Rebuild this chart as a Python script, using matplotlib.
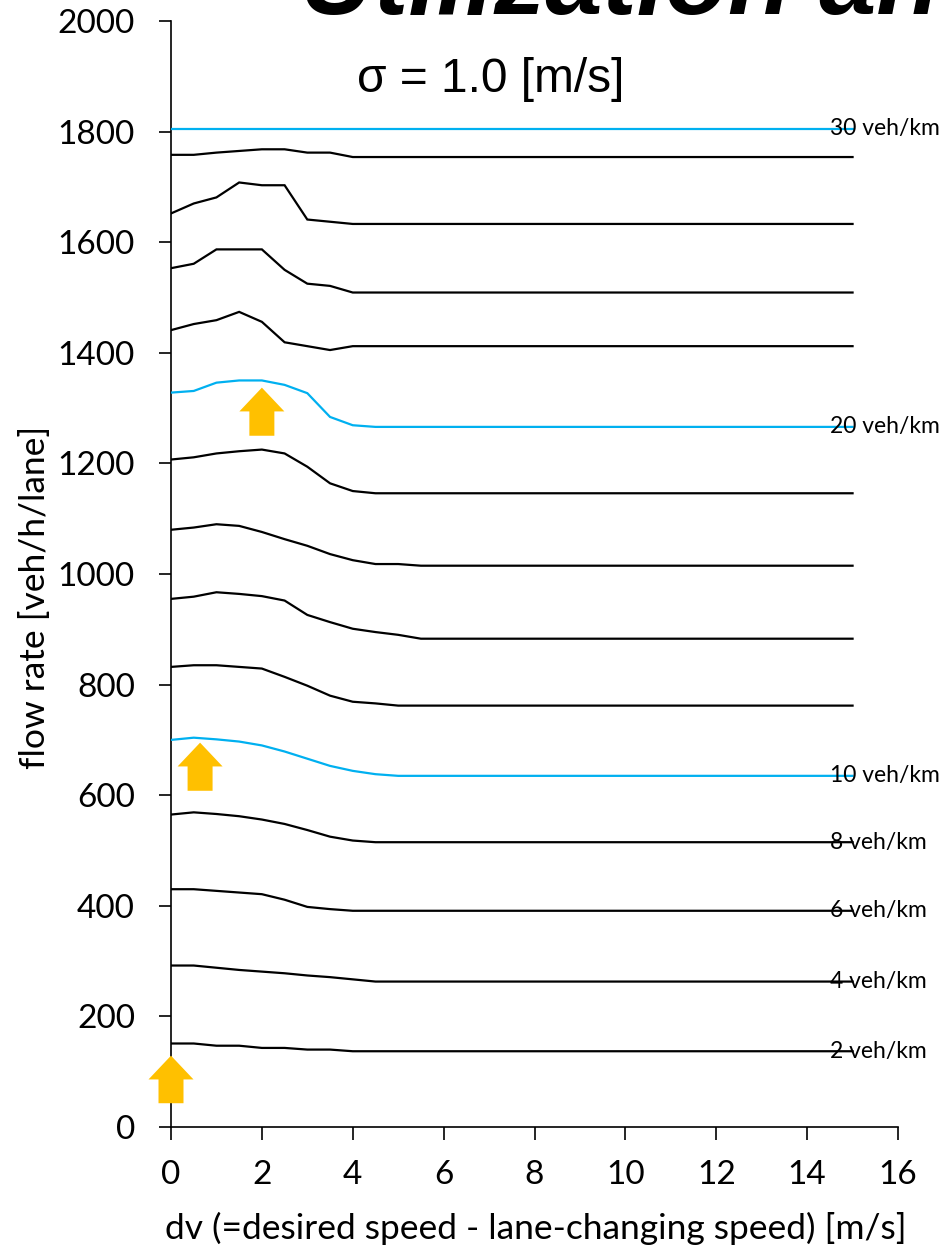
import matplotlib
matplotlib.use("Agg")
import matplotlib.pyplot as plt

# ---- data ----
dv = [0, 0.5, 1, 1.5, 2, 2.5, 3, 3.5, 4, 4.5, 5, 5.5, 15]
densities = [2, 4, 6, 8, 10, 12, 14, 16, 18, 20, 22, 24, 26, 28, 30]
flow_2 = [151, 151, 147, 147, 143, 143, 140, 140, 137, 137, 137, 137, 137]
flow_4 = [292, 292, 288, 284, 281, 278, 274, 271, 267, 263, 263, 263, 263]
flow_6 = [430, 430, 427, 424, 421, 411, 398, 394, 391, 391, 391, 391, 391]
flow_8 = [565, 569, 566, 562, 556, 548, 537, 525, 518, 515, 515, 515, 515]
flow_10 = [700, 704, 701, 697, 690, 679, 666, 653, 644, 638, 635, 635, 635]
flow_12 = [832, 835, 835, 832, 829, 814, 798, 780, 769, 766, 762, 762, 762]
flow_14 = [955, 959, 967, 964, 960, 952, 926, 913, 901, 895, 890, 883, 883]
flow_16 = [1080, 1084, 1090, 1087, 1076, 1063, 1051, 1036, 1025, 1018, 1018, 1015, 1015]
flow_18 = [1207, 1211, 1218, 1222, 1225, 1218, 1194, 1164, 1150, 1146, 1146, 1146, 1146]
flow_20 = [1328, 1331, 1346, 1350, 1350, 1342, 1327, 1284, 1269, 1266, 1266, 1266, 1266]
flow_22 = [1441, 1452, 1459, 1474, 1456, 1419, 1412, 1405, 1412, 1412, 1412, 1412, 1412]
flow_24 = [1553, 1561, 1587, 1587, 1587, 1550, 1525, 1521, 1509, 1509, 1509, 1509, 1509]
flow_26 = [1652, 1670, 1681, 1708, 1703, 1703, 1641, 1637, 1633, 1633, 1633, 1633, 1633]
flow_28 = [1758, 1758, 1762, 1765, 1768, 1768, 1762, 1762, 1754, 1754, 1754, 1754, 1754]
flow_30 = [1805, 1805, 1805, 1805, 1805, 1805, 1805, 1805, 1805, 1805, 1805, 1805, 1805]
flows = [flow_2, flow_4, flow_6, flow_8, flow_10, flow_12, flow_14, flow_16,
         flow_18, flow_20, flow_22, flow_24, flow_26, flow_28, flow_30]
labeled = [2, 4, 6, 8, 10, 20, 30]
highlight = [10, 20, 30]

arrow_x = [0, 0.64, 2.0]
arrow_base = [43, 608, 1250]
arrow_tip = [129, 695, 1337]

x_ticks = [0, 2, 4, 6, 8, 10, 12, 14, 16]
y_ticks = [0, 200, 400, 600, 800, 1000, 1200, 1400, 1600, 1800, 2000]

BLUE = "#00B0F0"
ORANGE = "#FFC000"
FONT = ["Lato", "DejaVu Sans"]

fig = plt.figure(figsize=(9.44, 12.48), dpi=100)
ax = fig.add_axes([171 / 944, 1 - 1127 / 1248, (898 - 171) / 944, (1127 - 21) / 1248])

for d, f in zip(densities, flows):
    col = BLUE if d in highlight else "black"
    ax.plot(dv, f, color=col, lw=1.6, solid_joinstyle="miter", zorder=3)
    if d in labeled:
        ax.text(14.5, f[-1], f"{d} veh/km", ha="left", va="center",
                fontsize=16.5, family=FONT, color="black", zorder=4)

for x, b, t in zip(arrow_x, arrow_base, arrow_tip):
    ax.arrow(x, b, 0, t - b, width=0.55, head_width=0.99, head_length=43,
             length_includes_head=True, color=ORANGE, lw=0, zorder=5, clip_on=False)

ax.set_xlim(0, 16)
ax.set_ylim(0, 2000)
ax.set_xticks(x_ticks)
ax.set_yticks(y_ticks)
ax.spines["top"].set_visible(False)
ax.spines["right"].set_visible(False)
for s in ["left", "bottom"]:
    ax.spines[s].set_linewidth(1.2)
ax.tick_params(direction="out", length=9, width=1.2, labelsize=24)
ax.tick_params(axis="x", pad=15)
ax.tick_params(axis="y", pad=17)
for lab in ax.get_xticklabels() + ax.get_yticklabels():
    lab.set_family(FONT)

fig.text(536 / 944, 1 - 1228 / 1248, "dv (=desired speed - lane-changing speed) [m/s]",
         ha="center", va="center", fontsize=25.5, family=FONT)
fig.text(35 / 944, 1 - 597 / 1248, "flow rate [veh/h/lane]", rotation=90,
         ha="center", va="center", fontsize=25.5, family=FONT)

fig.text(491 / 944, 1 - 80 / 1248, "σ = 1.0 [m/s]", ha="center", va="center",
         fontsize=34.5, family=["Liberation Sans", "DejaVu Sans"])
fig.text(300 / 944, 1 - 14 / 1248, "Utilization an", ha="left", va="baseline",
         fontsize=74, fontweight="bold", fontstyle="italic",
         family=["Liberation Sans", "DejaVu Sans"])

fig.savefig("out.png", dpi=100)
